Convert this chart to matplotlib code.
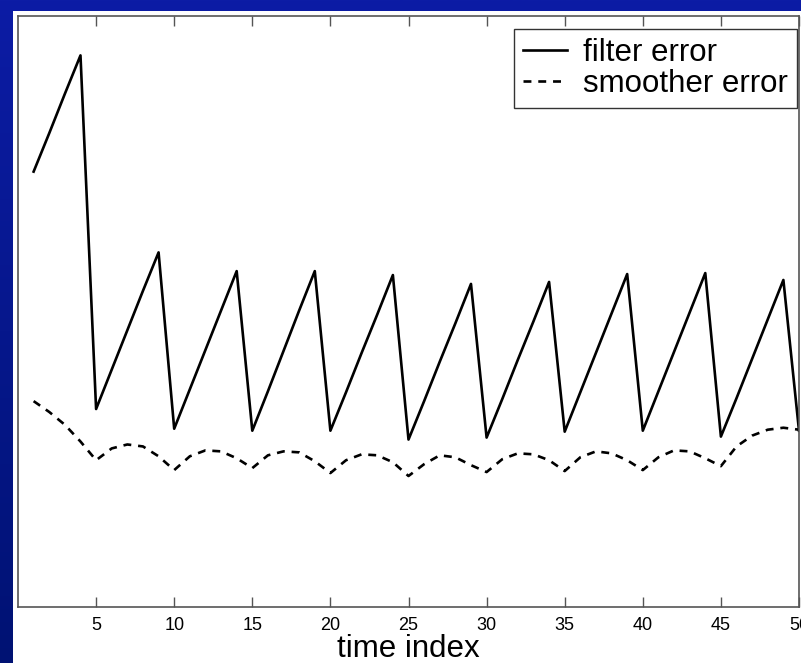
import numpy as np
import matplotlib
matplotlib.use('Agg')
import matplotlib.pyplot as plt
from matplotlib.patches import Rectangle

plt.rcParams['font.family'] = ['Liberation Sans', 'DejaVu Sans']

# time steps
time_index = list(range(1, 51))

# filter error (saw-tooth)
filter_error = [4.42, 4.81, 5.21, 5.60, 2.01, 2.41, 2.81, 3.21, 3.60, 1.81,
                2.21, 2.61, 3.01, 3.41, 1.79, 2.19, 2.60, 3.01, 3.41, 1.79,
                2.18, 2.58, 2.97, 3.37, 1.70, 2.09, 2.49, 2.88, 3.28, 1.72,
                2.11, 2.51, 2.90, 3.30, 1.78, 2.18, 2.58, 2.98, 3.38, 1.79,
                2.19, 2.59, 2.99, 3.39, 1.73, 2.12, 2.52, 2.92, 3.32, 1.79]

# smoother error
smoother_error = [2.09, 1.98, 1.85, 1.68, 1.49, 1.61, 1.65, 1.63, 1.53, 1.39,
                  1.53, 1.59, 1.58, 1.51, 1.41, 1.54, 1.58, 1.57, 1.48, 1.36,
                  1.49, 1.55, 1.54, 1.47, 1.33, 1.45, 1.54, 1.52, 1.44, 1.37,
                  1.50, 1.56, 1.55, 1.49, 1.38, 1.52, 1.58, 1.56, 1.49, 1.39,
                  1.52, 1.59, 1.58, 1.51, 1.43, 1.63, 1.74, 1.80, 1.82, 1.80]

x_ticks = [5, 10, 15, 20, 25, 30, 35, 40, 45, 50]

W, H = 801, 663
fig = plt.figure(figsize=(W / 100, H / 100), dpi=100)

# blue slide background (vertical gradient)
bg = fig.add_axes([0, 0, 1, 1], zorder=-10)
grad = np.linspace(0, 1, 256).reshape(-1, 1)
top = np.array([12, 28, 165]) / 255
bottom = np.array([0, 18, 115]) / 255
img = top + (bottom - top) * grad[:, :, None]
bg.imshow(img, aspect='auto', extent=[0, 1, 0, 1])
bg.axis('off')

# white slide panel
fig.patches.append(Rectangle((13 / W, 0), 1, (H - 11) / H, transform=fig.transFigure,
                             facecolor='white', edgecolor='none', zorder=-5))

ax = fig.add_axes([18 / W, (H - 607) / H, (799 - 18) / W, 591 / H])
ax.set_facecolor('white')

ax.plot(time_index, filter_error, color='black', lw=1.9, label='filter error')
ax.plot(time_index, smoother_error, color='black', lw=1.9,
        linestyle=(0, (3.0, 2.6)), label='smoother error')

ax.set_xlim(0, 50)
ax.set_ylim(0, 6)
ax.set_xticks(x_ticks)
ax.set_yticks([])
ax.tick_params(axis='x', direction='in', length=7, width=1, color='#555555',
               top=True, labelsize=13, pad=7)
for s in ax.spines.values():
    s.set_color('#555555')
    s.set_linewidth(1.2)

ax.set_xlabel('time index', fontsize=22.5, labelpad=0)

leg = ax.legend(loc='upper right', fontsize=22.5, frameon=True, fancybox=False,
                handlelength=1.4, handletextpad=0.5, borderpad=0.3,
                labelspacing=0.02, borderaxespad=0,
                bbox_to_anchor=(797 / W, 1 - 29 / H), bbox_transform=fig.transFigure)
leg.get_frame().set_edgecolor('#333333')
leg.get_frame().set_linewidth(1.0)
leg.get_frame().set_alpha(1)

fig.savefig('out.png', dpi=100)
